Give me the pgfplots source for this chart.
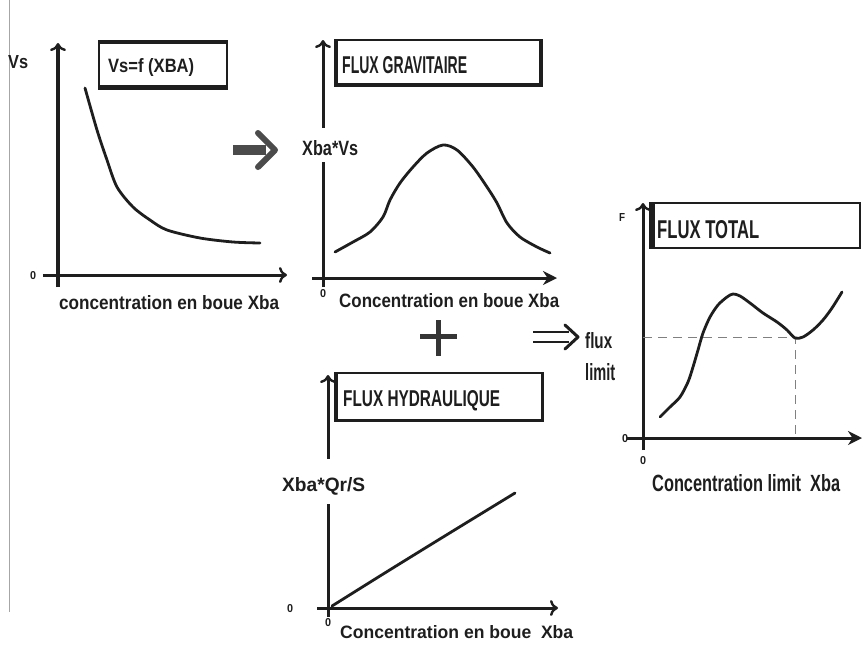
\documentclass[border=0pt]{standalone}
\usepackage{fontspec}
\setmainfont{Liberation Sans}
\usepackage{graphicx}
\usepackage{pgfplots}
\pgfplotsset{compat=1.18}
\usetikzlibrary{arrows.meta}
\definecolor{ink}{HTML}{1E1E1E}

% one small sketch axis, 1 unit = 1 px of the reference
\pgfplotsset{sketch/.style={
  x=1pt, y=1pt, anchor=origin, hide axis,
  clip=false, enlargelimits=false,
}}
\tikzset{curve/.style={ink, line width=2.8pt, smooth, line join=round, line cap=round}}
\tikzset{openarrow/.style={draw=ink, line width=3pt, -{To[length=8pt,width=16pt,line width=2.4pt]}}}
\tikzset{fullarrow/.style={draw=ink, line width=3pt, -{Stealth[length=14pt,width=14pt]}}}
% the two axis lines of a sketch, crossing at the origin
\newcommand{\axlines}[6]{%
  \draw[#5] (axis cs:#1,0) -- (axis cs:#2,0);
  \draw[#6] (axis cs:0,#3) -- (axis cs:0,#4);}

\newcommand{\lbl}[3]{\resizebox{#1pt}{#2pt}{\bfseries #3}}

\begin{document}
\begin{tikzpicture}[x=1pt, y=-1pt]

% ---- Vs = f(XBA)
\begin{axis}[sketch, at={(58pt,-275pt)},
  xmin=-15, xmax=229, ymin=-12, ymax=232]
\axlines{-15}{229}{-12}{232}{openarrow}{openarrow}
\addplot[curve] coordinates {(27,187) (39,145) (49,115) (59,88) (75,68) (92,55)
  (109,45) (142,37) (175,33) (202,32)};
\end{axis}

% ---- flux gravitaire
\begin{axis}[sketch, at={(323pt,-278pt)},
  xmin=-11, xmax=234, ymin=-9, ymax=238]
\axlines{-11}{234}{-9}{238}{fullarrow}{openarrow}
\addplot[curve] coordinates {(12,26) (30,36) (47,46) (60,61) (67,78) (77,95)
  (90,111) (104,125) (120,133) (134,128) (150,111) (164,91) (174,75) (184,55)
  (197,41) (214,31) (227,25)};
\end{axis}

% ---- flux hydraulique
\begin{axis}[sketch, at={(328pt,-608pt)},
  xmin=-11, xmax=230, ymin=-9, ymax=233]
\axlines{-11}{230}{-9}{233}{openarrow}{openarrow}
\addplot[curve] coordinates {(4,2) (60,37) (120,74) (187,115)};
\end{axis}

% ---- flux total
\begin{axis}[sketch, at={(643pt,-438pt)},
  xmin=-16, xmax=219, ymin=-12, ymax=235]
\axlines{-16}{219}{-12}{235}{fullarrow}{openarrow}
\addplot[sharp plot, gray, line width=1pt, dash pattern=on 9pt off 6pt]
  coordinates {(0,101) (152,101) (152,0)};
\addplot[curve] coordinates {(17,21) (27,31) (37,41) (45,56) (50,71) (55,88)
  (60,105) (67,121) (75,133) (84,141) (90,144) (97,142) (107,135) (120,125)
  (134,116) (144,108) (152,100) (160,101) (170,108) (180,118) (189,130) (199,146)};
\end{axis}

% gaps in the y axes behind their labels
\fill[white] (317,128) rectangle (329,162);
\fill[white] (322,459) rectangle (334,504);

% frame line on the left
\draw[gray!70, line width=1pt] (9,0) -- (9,612);

% boxes
\draw[ink, line width=1.8pt] (99,41) rectangle (227,89);
\draw[ink, line width=3.5pt] (99,42) -- (227,42);
\draw[ink, line width=4pt] (99,87) -- (227,87);
\draw[ink, line width=1.8pt] (335,40) rectangle (542,86);
\draw[ink, line width=3.5pt] (336,40) -- (336,86) (541,40) -- (541,86);
\draw[ink, line width=4pt] (335,85) -- (542,85);
\draw[ink, line width=1.8pt] (335,373) rectangle (543,421);
\draw[ink, line width=3pt] (336,373) -- (336,421) (542,373) -- (542,421) (335,420) -- (543,420);
\draw[ink, line width=2.2pt] (650,203) rectangle (860,248);
\draw[ink, line width=6pt] (652,203) -- (652,248);

% arrows and plus sign
\fill[ink!80] (233,145) rectangle (266,155);
\draw[ink!80, line width=6pt, line cap=round, line join=round] (258,133) -- (275,150) -- (258,167);
\draw[ink!90, line width=5pt] (420,336) -- (457,336) (438,320) -- (438,356);
\draw[ink, line width=2.5pt] (533,332) -- (569,332) (533,342) -- (569,342);
\draw[ink, line width=3pt, line cap=round, line join=round] (565,325) -- (578,337) -- (565,349);

% texts
\begin{scope}[every node/.style={anchor=base west, inner sep=0pt, text=ink}]
\node at (8,68) {\lbl{20}{13}{Vs}};
\node at (108,72) {\lbl{86}{14}{Vs=f (XBA)}};
\node at (30,279) {\lbl{6}{8}{0}};
\node at (59,309) {\lbl{220}{14}{concentration en boue Xba}};

\node at (342,73) {\lbl{125}{17}{FLUX GRAVITAIRE}};
\node at (302,155) {\lbl{56}{15}{Xba*Vs}};
\node at (320,297) {\lbl{6}{8}{0}};
\node at (339,307) {\lbl{220}{14}{Concentration en boue Xba}};

\node at (343,406) {\lbl{157}{16}{FLUX HYDRAULIQUE}};
\node at (282,491) {\lbl{83}{14}{Xba*Qr/S}};
\node at (287,612) {\lbl{6}{8}{0}};
\node at (325,626) {\lbl{6}{8}{0}};
\node at (340,638) {\lbl{233}{13}{Concentration en boue\ \ Xba}};

\node at (657,238) {\lbl{102}{18}{FLUX TOTAL}};
\node at (619,221) {\lbl{6}{8}{F}};
\node at (622,442) {\lbl{6}{8}{0}};
\node at (640,464) {\lbl{6}{8}{0}};
\node at (652,491) {\lbl{188}{17}{Concentration limit\ \ Xba}};
\node at (585,348) {\lbl{27}{16}{flux}};
\node at (585,380) {\lbl{30}{17}{limit}};
\end{scope}

\pgfresetboundingbox
\path (0,0) rectangle (864,646);
\end{tikzpicture}
\end{document}
